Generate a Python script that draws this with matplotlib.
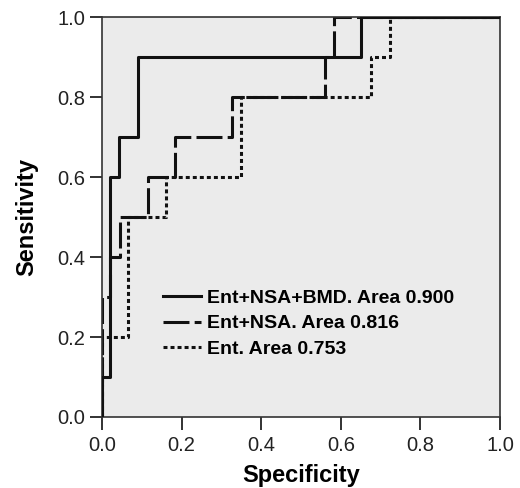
import matplotlib
matplotlib.use('Agg')
import matplotlib.pyplot as plt

plt.rcParams['font.family'] = ['Liberation Sans', 'DejaVu Sans']

# ROC curve corners
full_x = [0, 0, 0.020, 0.020, 0.043, 0.043, 0.091, 0.091, 0.652, 0.652, 1.0]
full_y = [0, 0.1, 0.1, 0.6, 0.6, 0.7, 0.7, 0.9, 0.9, 1.0, 1.0]

nsa_x = [0, 0, 0.020, 0.020, 0.045, 0.045, 0.115, 0.115, 0.183, 0.183,
         0.328, 0.328, 0.560, 0.560, 0.583, 0.583, 1.0]
nsa_y = [0, 0.3, 0.3, 0.4, 0.4, 0.5, 0.5, 0.6, 0.6, 0.7,
         0.7, 0.8, 0.8, 0.9, 0.9, 1.0, 1.0]

ent_x = [0, 0, 0.066, 0.066, 0.160, 0.160, 0.349, 0.349, 0.676, 0.676, 0.724, 0.724, 1.0]
ent_y = [0, 0.2, 0.2, 0.5, 0.5, 0.6, 0.6, 0.8, 0.8, 0.9, 0.9, 1.0, 1.0]

labels = ['Ent+NSA+BMD. Area 0.900', 'Ent+NSA. Area 0.816', 'Ent. Area 0.753']
ticks = [0.0, 0.2, 0.4, 0.6, 0.8, 1.0]

fig = plt.figure(figsize=(5.2, 4.88), dpi=100)
ax = fig.add_axes([0.196, 0.1455, 0.7655, 0.8195])
ax.set_facecolor('#ebebeb')

# dash lengths are in units of line width here
ax.plot(full_x, full_y, color='#111111', lw=2.2, label=labels[0], zorder=3)
ax.plot(nsa_x, nsa_y, color='#111111', lw=2.2, dashes=(8.5, 1.7), label=labels[1], zorder=2)
ax.plot(ent_x, ent_y, color='#111111', lw=2.2, dashes=(1.3, 1.0), label=labels[2], zorder=1)

ax.set_xlim(0, 1)
ax.set_ylim(0, 1)
ax.set_xticks(ticks)
ax.set_yticks(ticks)
ax.set_xticklabels(['%.1f' % t for t in ticks])
ax.set_yticklabels(['%.1f' % t for t in ticks])
ax.tick_params(direction='out', length=9, width=1.3, labelsize=14.5, colors='#222222')
ax.tick_params(axis='x', pad=5)
ax.tick_params(axis='y', pad=3)
for s in ax.spines.values():
    s.set_color('#333333')
    s.set_linewidth(1.2)

ax.set_xlabel('Specificity', fontsize=17, fontweight='bold', labelpad=6)
ax.set_ylabel('Sensitivity', fontsize=17, fontweight='bold', labelpad=14)

leg = ax.legend(loc='lower left', bbox_to_anchor=(0.128, 0.123), frameon=False,
                prop={'weight': 'bold', 'size': 14}, handlelength=2.0,
                handletextpad=0.3, labelspacing=0.42, borderpad=0)

fig.savefig('out.png', dpi=100, facecolor='white')
